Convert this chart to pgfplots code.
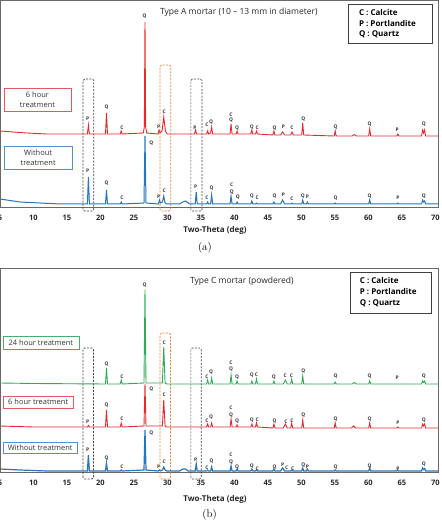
\documentclass[border=0pt]{standalone}
\usepackage{fontspec}
\usepackage{pgfplots}
\pgfplotsset{compat=1.18}
\newfontfamily\osans{Open Sans}
\definecolor{cred}{RGB}{232,40,46}
\definecolor{cblue}{RGB}{38,117,190}
\definecolor{cgreen}{RGB}{46,170,88}
\definecolor{corange}{RGB}{237,125,49}
\definecolor{framegray}{RGB}{105,105,105}
\definecolor{bred}{RGB}{224,90,95}
\definecolor{bblue}{RGB}{80,145,205}
\definecolor{bgreen}{RGB}{70,175,110}
\newcommand{\lbl}[3]{\node[font=\osans\bfseries\fontsize{4.9}{5}\selectfont, inner sep=0pt, text=black!80] at (axis cs:#1,#2) {#3};}
\tikzset{dbox/.style={dash pattern=on 2pt off 1.4pt, line width=0.7pt, rounded corners=1.5pt}}
\pgfplotsset{
  myaxis/.style={scale only axis, width=438pt, xmin=5, xmax=70.4, ymin=0, clip=false,
    axis line style={draw=framegray, line width=0.8pt},
    ytick=\empty, xtick={5,10,...,70}, major tick length=0pt,
    xticklabel style={font=\osans\bfseries\fontsize{7.5}{8}\selectfont, text=black!85, yshift=-5pt},
    /pgf/number format/assume math mode=true},
}
\begin{document}
\begin{tikzpicture}
% ---------------- (a) ----------------
\begin{axis}[myaxis, height=207pt, ymax=207, at={(0pt,313pt)}, anchor=south west]
\draw[dbox, black!75] (axis cs:17.4,-4) rectangle (axis cs:19.0,128);
\draw[dbox, corange] (axis cs:28.9,-4) rectangle (axis cs:30.5,142);
\draw[dbox, black!75] (axis cs:33.5,-4) rectangle (axis cs:35.15,128);
\addplot[cred, line width=0.9pt] coordinates {
(5,76) (7,75) (9,74) (12,73) (18.05,73) (18.2,82) (18.35,73) (20.75,73) (20.9,94) (21.05,73) (22.95,73) (23.1,76) (23.25,73) (26.4,74) (26.55,80) (26.65,185) (26.75,80) (26.9,74) (28.6,73) (28.75,77) (28.9,74) (29.2,76) (29.45,90) (29.7,76) (29.95,73) (34.05,73) (34.2,77) (34.35,73) (35.85,73) (36.0,76) (36.15,73) (36.45,74) (36.6,80) (36.75,73) (39.35,73) (39.5,83) (39.65,73) (40.25,73) (40.4,76) (40.55,73) (42.45,73) (42.6,77) (42.75,73) (43.15,73) (43.3,76) (43.45,73) (45.75,72) (45.9,76) (46.05,72) (46.9,72) (47.2,75) (47.5,72) (48.4,72) (48.6,75) (48.8,72) (50.05,72) (50.2,84) (50.35,72) (54.9,71) (55.05,76) (55.2,71) (57.6,71) (57.9,72.5) (58.2,71) (60.05,71) (60.2,78) (60.35,71) (64.25,71) (64.4,73) (64.55,71) (67.95,71) (68.1,77) (68.25,74) (68.4,77) (68.55,71) (70.4,71)};
\addplot[cblue, line width=1.0pt] coordinates {
(5,8) (6.5,6.5) (8,5) (11,4) (14,3) (18.05,3) (18.2,30) (18.35,3) (20.75,3) (20.9,17) (21.05,3) (22.95,3) (23.1,5) (23.25,3) (26.5,4) (26.65,71) (26.8,4) (28.65,3) (28.8,7) (28.95,4) (29.25,5) (29.45,11) (29.65,4) (29.9,3) (31.8,3) (32.3,5) (32.7,6) (33.1,4) (33.4,3) (34.15,3) (34.3,15) (34.45,3) (35.85,3) (36.0,5) (36.15,3) (36.45,3) (36.6,12) (36.75,3) (39.35,3) (39.5,11) (39.65,3) (40.25,3) (40.4,5) (40.55,3) (42.45,3) (42.6,6) (42.75,3) (43.15,3) (43.3,4) (43.45,3) (45.75,3) (45.9,5) (46.05,3) (46.9,3) (47.2,7) (47.5,3) (48.45,3) (48.6,4) (48.75,3) (50.05,3) (50.2,7) (50.35,3) (50.75,3) (50.9,5) (51.05,3) (54.9,3) (55.05,4) (55.2,3) (60.05,3) (60.2,7) (60.35,3) (64.25,3) (64.4,4) (64.55,3) (67.95,3) (68.1,7) (68.25,5) (68.4,6) (68.55,3) (70.4,3)};
% red labels
\lbl{18.1}{88}{P}\lbl{20.9}{100}{Q}\lbl{23.2}{79}{C}\lbl{26.6}{191}{Q}\lbl{28.7}{80}{P}\lbl{29.5}{95}{C}
\lbl{34.1}{79}{P}\lbl{35.9}{82}{C}\lbl{36.5}{85}{Q}\lbl{39.5}{92}{C}\lbl{39.5}{87}{Q}\lbl{40.4}{79}{Q}
\lbl{42.6}{80}{Q}\lbl{43.4}{79}{C}\lbl{46.0}{79}{Q}\lbl{47.3}{80}{P}\lbl{48.6}{79}{C}\lbl{50.3}{88}{Q}
\lbl{55.1}{80}{Q}\lbl{60.2}{83}{Q}\lbl{64.3}{77}{P}\lbl{68.3}{83}{Q}
% blue labels
\lbl{18.1}{36}{P}\lbl{20.9}{24}{Q}\lbl{23.2}{9}{C}\lbl{27.6}{64}{Q}\lbl{28.7}{10}{P}\lbl{29.5}{16}{C}
\lbl{34.2}{20}{P}\lbl{35.9}{9}{C}\lbl{36.6}{19}{Q}\lbl{39.6}{22}{C}\lbl{39.6}{15}{Q}\lbl{40.5}{10}{Q}
\lbl{42.6}{11}{Q}\lbl{43.4}{9}{C}\lbl{46.0}{11}{Q}\lbl{47.3}{12}{P}\lbl{48.6}{8}{C}\lbl{50.2}{11}{Q}
\lbl{50.9}{10}{P}\lbl{55.1}{9}{Q}\lbl{60.2}{11}{Q}\lbl{64.4}{9}{P}\lbl{68.3}{11}{Q}
% texts
\node[anchor=west, font=\osans\fontsize{8.5}{10}\selectfont, text=black!85, inner sep=0pt] at (axis cs:28.88,195) {Type A mortar (10 \textendash{} 13 mm in diameter)};
\draw[draw=black!75, line width=0.8pt, fill=white] (axis cs:57.09,203) rectangle (axis cs:69.63,164);
\node[anchor=west, font=\osans\bfseries\fontsize{8}{9}\selectfont, inner sep=0pt] at (axis cs:58.58,194) {C : Calcite};
\node[anchor=west, font=\osans\bfseries\fontsize{8}{9}\selectfont, inner sep=0pt] at (axis cs:58.58,183.5) {P : Portlandite};
\node[anchor=west, font=\osans\bfseries\fontsize{8}{9}\selectfont, inner sep=0pt] at (axis cs:58.58,173) {Q : Quartz};
\draw[bred, line width=0.9pt] (axis cs:5.6,119) rectangle (axis cs:15.6,96);
\node[align=center, font=\osans\fontsize{7.5}{10}\selectfont, text=black!80] at (axis cs:10.6,107.5) {6 hour\\treatment};
\draw[bblue, line width=0.9pt] (axis cs:5.6,61) rectangle (axis cs:15.75,38);
\node[align=center, font=\osans\fontsize{7.5}{10}\selectfont, text=black!80] at (axis cs:10.7,49.5) {Without\\treatment};
\node[font=\osans\bfseries\fontsize{8}{9}\selectfont, text=black!85] at (axis cs:37.1,-23) {Two-Theta (deg)};
\node[font=\fontsize{11}{12}\selectfont] at (axis cs:35.6,-41) {(a)};
\end{axis}
% ---------------- (b) ----------------
\begin{axis}[myaxis, height=204pt, ymax=204, at={(0pt,48pt)}, anchor=south west]
\draw[dbox, black!75] (axis cs:17.4,-7) rectangle (axis cs:18.95,124);
\draw[dbox, corange] (axis cs:28.9,-7) rectangle (axis cs:30.45,139);
\draw[dbox, black!75] (axis cs:33.5,-7) rectangle (axis cs:35.05,124);
\addplot[cgreen, line width=0.9pt] coordinates {
(5,89) (10,88.5) (20.75,88) (20.9,104) (21.05,88) (22.95,88) (23.1,92) (23.25,88) (26.5,89) (26.65,182) (26.8,89) (29.25,89) (29.45,125) (29.65,89) (29.9,88) (35.85,88) (36.0,92) (36.15,88) (36.45,88) (36.6,94) (36.75,88) (39.35,88) (39.5,97) (39.65,88) (40.25,88) (40.4,91) (40.55,88) (42.45,88) (42.6,91) (42.75,88) (43.15,88) (43.3,93) (43.45,88) (45.75,88) (45.9,91) (46.05,88) (47.3,88) (47.6,92) (47.9,88) (48.4,88) (48.55,93) (48.7,88) (50.05,88) (50.2,96) (50.35,88) (54.9,88) (55.05,90) (55.2,88) (57.6,88) (57.9,89.5) (58.2,88) (60.05,88) (60.2,91) (60.35,88) (67.95,88) (68.1,91) (68.25,89.5) (68.4,91) (68.55,88) (70.4,88)};
\addplot[cred, line width=0.9pt] coordinates {
(5,46) (10,45) (18.05,45) (18.2,46.5) (18.35,45) (20.75,45) (20.9,62) (21.05,45) (22.95,45) (23.1,49) (23.25,45) (26.5,46) (26.65,88) (26.8,46) (29.25,46) (29.45,72) (29.65,46) (29.9,45) (35.85,45) (36.0,48) (36.15,45) (36.45,45) (36.6,49) (36.75,45) (39.35,45) (39.5,53) (39.65,45) (40.25,45) (40.4,47) (40.55,45) (42.45,45) (42.6,48) (42.75,45) (43.15,45) (43.3,49) (43.45,45) (45.75,44) (45.9,48) (46.05,44) (47.3,44) (47.6,48) (47.9,44) (48.4,44) (48.55,49) (48.7,44) (50.05,44) (50.2,52) (50.35,44) (54.9,44) (55.05,49) (55.2,44) (57.5,44) (57.8,46) (58.1,44) (60.05,44) (60.2,49) (60.35,44) (64.25,44) (64.4,45) (64.55,44) (67.95,44) (68.1,48) (68.25,46) (68.4,48) (68.55,44) (70.4,44)};
\addplot[cblue, line width=1.2pt] coordinates {
(5,3) (8,2) (12,1) (18.05,1) (18.2,17) (18.35,1) (20.75,1) (20.9,9) (21.05,1) (22.95,1) (23.1,2) (23.25,1) (26.5,2) (26.65,42) (26.8,2) (28.65,1) (28.8,2) (28.95,1) (29.25,2) (29.45,5) (29.65,2) (29.9,1) (31.8,1) (32.3,3) (32.7,3) (33.1,1) (34.15,1) (34.3,8) (34.45,1) (35.85,1) (36.0,2) (36.15,1) (36.45,1) (36.6,5) (36.75,1) (39.35,1) (39.5,6) (39.65,1) (40.25,1) (40.4,3) (40.55,1) (42.45,1) (42.6,3) (42.75,1) (43.15,1) (43.3,2) (43.45,1) (45.75,1) (45.9,3) (46.05,1) (46.9,1) (47.2,4) (47.5,1) (48.45,1) (48.6,2) (48.75,1) (50.05,1) (50.2,4) (50.35,1) (50.75,1) (50.9,3) (51.05,1) (54.9,1) (55.05,2) (55.2,1) (60.05,1) (60.2,4) (60.35,1) (64.25,1) (64.4,2) (64.55,1) (67.95,1) (68.1,4) (68.25,2.5) (68.4,3.5) (68.55,1) (70.4,1)};
% green labels
\lbl{20.9}{108}{Q}\lbl{23.2}{95}{C}\lbl{26.6}{187}{Q}\lbl{29.5}{129}{C}\lbl{35.9}{95}{C}\lbl{36.5}{100}{Q}
\lbl{39.5}{109}{C}\lbl{39.5}{103}{Q}\lbl{40.4}{95}{Q}\lbl{42.6}{97}{Q}\lbl{43.3}{97}{C}\lbl{45.9}{95}{Q}
\lbl{47.6}{96}{C}\lbl{48.5}{96}{C}\lbl{50.3}{101}{Q}\lbl{55.1}{96}{Q}\lbl{60.2}{96}{Q}\lbl{64.3}{94}{P}\lbl{68.3}{96}{Q}
% red labels
\lbl{18.1}{50}{P}\lbl{20.9}{67}{Q}\lbl{23.2}{53}{C}\lbl{27.6}{83}{Q}\lbl{29.5}{77}{C}\lbl{35.9}{51}{C}\lbl{36.5}{55}{Q}
\lbl{39.5}{64}{C}\lbl{39.5}{57}{Q}\lbl{40.4}{51}{Q}\lbl{42.6}{52}{Q}\lbl{43.4}{52}{C}\lbl{46.0}{51}{Q}
\lbl{47.7}{50}{C}\lbl{48.6}{51}{C}\lbl{50.3}{57}{Q}\lbl{55.1}{53}{Q}\lbl{60.2}{53}{Q}\lbl{64.4}{49}{P}\lbl{68.3}{52}{Q}
% blue labels
\lbl{18.1}{22}{P}\lbl{20.9}{14}{Q}\lbl{23.2}{5}{C}\lbl{27.6}{39}{Q}\lbl{28.7}{5}{P}\lbl{29.5}{10}{C}\lbl{34.2}{12}{P}
\lbl{35.9}{4}{C}\lbl{36.6}{11}{Q}\lbl{39.5}{17}{C}\lbl{39.5}{10}{Q}\lbl{40.4}{5}{Q}\lbl{42.6}{6}{Q}\lbl{43.4}{3}{C}
\lbl{46.0}{5}{Q}\lbl{47.2}{7}{P}\lbl{47.8}{4}{C}\lbl{48.7}{3}{C}\lbl{50.3}{7}{Q}\lbl{50.9}{5}{P}\lbl{55.1}{5}{Q}
\lbl{60.2}{6}{Q}\lbl{64.4}{3}{P}\lbl{68.3}{8}{Q}
% texts
\node[anchor=west, font=\osans\fontsize{8.5}{10}\selectfont, text=black!85, inner sep=0pt] at (axis cs:33.36,191) {Type C mortar (powdered)};
\draw[draw=black!75, line width=0.8pt, fill=white] (axis cs:57.39,200) rectangle (axis cs:69.48,159);
\node[anchor=west, font=\osans\bfseries\fontsize{8}{9}\selectfont, inner sep=0pt] at (axis cs:58.7,191) {C : Calcite};
\node[anchor=west, font=\osans\bfseries\fontsize{8}{9}\selectfont, inner sep=0pt] at (axis cs:58.7,180) {P : Portlandite};
\node[anchor=west, font=\osans\bfseries\fontsize{8}{9}\selectfont, inner sep=0pt] at (axis cs:58.7,169) {Q : Quartz};
\draw[bgreen, line width=0.9pt] (axis cs:5.45,136) rectangle (axis cs:16.8,123);
\node[font=\osans\fontsize{7.5}{9}\selectfont, text=black!80] at (axis cs:11.1,129.5) {24 hour treatment};
\draw[bred, line width=0.9pt] (axis cs:5.45,76) rectangle (axis cs:15.9,64);
\node[font=\osans\fontsize{7.5}{9}\selectfont, text=black!80] at (axis cs:10.7,70) {6 hour treatment};
\draw[bblue, line width=0.9pt] (axis cs:5.45,30) rectangle (axis cs:16.6,19);
\node[font=\osans\fontsize{7.5}{9}\selectfont, text=black!80] at (axis cs:11.0,24.5) {Without treatment};
\node[font=\osans\bfseries\fontsize{8}{9}\selectfont, text=black!85] at (axis cs:37.1,-27) {Two-Theta (deg)};
\node[font=\fontsize{11}{12}\selectfont] at (axis cs:36.3,-43) {(b)};
\end{axis}
\pgfresetboundingbox
\path[use as bounding box] (0pt,0pt) rectangle (442pt,520pt);
\end{tikzpicture}
\end{document}
